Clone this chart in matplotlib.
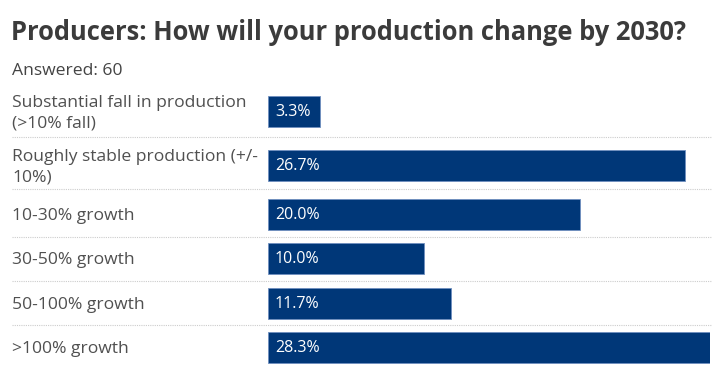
import matplotlib.pyplot as plt

# data
categories = ["Substantial fall in production\n(>10% fall)",
              "Roughly stable production (+/-\n10%)",
              "10-30% growth",
              "30-50% growth",
              "50-100% growth",
              ">100% growth"]
values = [3.3, 26.7, 20.0, 10.0, 11.7, 28.3]
title = "Producers: How will your production change by 2030?"
subtitle = "Answered: 60"

# layout (pixel rows of the 720x374 figure)
row_y = [111, 165, 214, 258, 303, 347]
sep_y = [137, 189, 237, 281, 325]
bar_h = 31
bar_color = "#003778"

plt.rcParams['font.family'] = ['Open Sans', 'DejaVu Sans']

fig = plt.figure(figsize=(7.2, 3.74), dpi=100)

# background axes in pixel units for text and separators
bg = fig.add_axes([0, 0, 1, 1])
bg.set_xlim(0, 720)
bg.set_ylim(374, 0)
bg.axis('off')

bg.text(11, 32, title, fontsize=18.4, fontweight='bold', color='#3b3b3b', va='center')
bg.text(12, 71, subtitle, fontsize=12.6, color='#444444', va='center')
for lab, y in zip(categories, row_y):
    bg.text(12, y + 2, lab, fontsize=12.6, color='#505050', va='center', linespacing=1.4)
for y in sep_y:
    bg.plot([12, 712], [y, y], color='#cccccc', lw=0.8, ls=(0, (1, 1)))

# bar axes
ax = fig.add_axes([268 / 720, 0, (710 - 268) / 720, 1])
ax.set_xlim(0, max(values))
ax.set_ylim(374, 0)
ax.axis('off')
ax.barh(row_y, values, height=bar_h, color=bar_color, edgecolor='#6f8fbf', linewidth=0.6)
for v, y in zip(values, row_y):
    ax.annotate(f"{v:.1f}%", (0, y + 1), xytext=(5, 0), textcoords='offset points',
                color='white', fontsize=11.5, va='center', ha='left')

fig.savefig('out.png', dpi=100)
